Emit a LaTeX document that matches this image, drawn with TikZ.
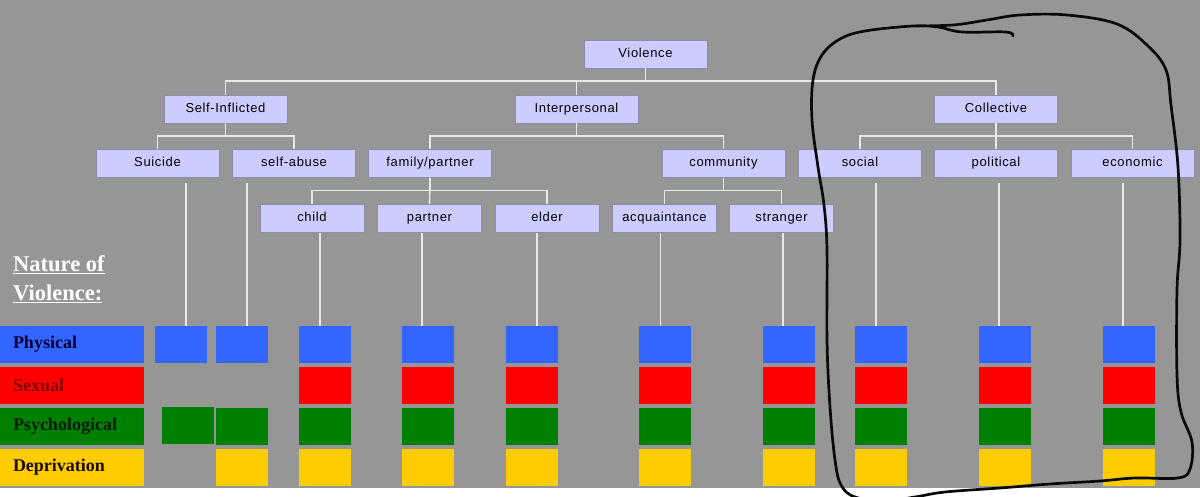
\documentclass[tikz,border=0pt]{standalone}
\usepackage{fontspec}
\setmainfont{Liberation Serif}
\newfontfamily\boxfont[LetterSpace=5]{Liberation Sans}
\usepackage{xcolor}
\usepackage{tikz}
\usetikzlibrary{positioning}

\definecolor{slide}{RGB}{150,150,150}
\definecolor{boxfill}{RGB}{204,204,255}
\definecolor{boxline}{RGB}{140,140,170}
\definecolor{linkgray}{RGB}{232,232,232}
\definecolor{physblue}{RGB}{51,102,255}
\definecolor{sexred}{RGB}{255,0,0}
\definecolor{psygreen}{RGB}{0,128,0}
\definecolor{depyellow}{RGB}{255,204,0}
\definecolor{phystext}{RGB}{0,0,51}
\definecolor{sextext}{RGB}{128,0,0}
\definecolor{psytext}{RGB}{0,26,0}
\definecolor{deptext}{RGB}{26,13,0}
\definecolor{penblack}{RGB}{10,10,10}

\begin{document}
\begin{tikzpicture}[
  x=1pt, y=-1pt,
  box/.style={
    draw=boxline,
    fill=boxfill,
    minimum width=123pt,
    minimum height=28pt,
    inner sep=0pt,
    text height=9.5pt,
    text depth=2.7pt,
    font=\boxfont\fontsize{13}{15}\selectfont
  },
  leafbox/.style={box, minimum width=104pt},
  link/.style={draw=linkgray, line width=1.6pt},
  cell/.style={
    minimum width=52pt,
    minimum height=36.5pt,
    inner sep=0pt,
    outer sep=0pt
  },
  phys/.style={cell, fill=physblue},
  sex/.style={cell, fill=sexred},
  psy/.style={cell, fill=psygreen},
  dep/.style={cell, fill=depyellow},
  rowlabel/.style={
    minimum width=144pt,
    minimum height=36.5pt,
    inner xsep=13pt,
    inner ysep=0pt,
    outer sep=0pt,
    text width=118pt,
    align=left,
    font=\bfseries\fontsize{18}{20}\selectfont
  },
  pen/.style={draw=penblack, line width=2.7pt, line cap=round, line join=round}
]
\useasboundingbox (0,0) rectangle (1200,497);
\fill[white] (0,0) rectangle (1200,497);
\fill[slide] (0,0) rectangle (1200,488);

% the tree
\node[box] (violence) at (645.5,54) {Violence};
\node[box] (selfinf) at (225.5,109) {Self-Inflicted};
\node[box] (interp) at (576.5,109) {Interpersonal};
\node[box] (collective) at (996,109) {Collective};

\node[box] (suicide) at (157.5,163.5) {Suicide};
\node[box] (selfabuse) at (294,163.5) {self-abuse};
\node[box] (family) at (430,163.5) {family/partner};
\node[box] (community) at (723.5,163.5) {community};
\node[box] (social) at (860,163.5) {social};
\node[box] (political) at (996,163.5) {political};
\node[box] (economic) at (1132.5,163.5) {economic};

\node[leafbox] (child) at (312,218) {child};
\node[leafbox] (partner) at (429.5,218) {partner};
\node[leafbox] (elder) at (547,218) {elder};
\node[leafbox] (acquaint) at (664.5,218) {acquaintance};
\node[leafbox] (stranger) at (781.5,218) {stranger};

\draw[link] (violence.south) -- ++(0,13) -| (selfinf.north);
\draw[link] (violence.south) -- ++(0,13) -| (interp.north);
\draw[link] (violence.south) -- ++(0,13) -| (collective.north);

\draw[link] (selfinf.south) -- ++(0,13) -| (suicide.north);
\draw[link] (selfinf.south) -- ++(0,13) -| (selfabuse.north);
\draw[link] (interp.south) -- ++(0,13) -| (family.north);
\draw[link] (interp.south) -- ++(0,13) -| (community.north);
\draw[link] (collective.south) -- ++(0,13) -| (social.north);
\draw[link] (collective.south) -- (political.north);
\draw[link] (collective.south) -- ++(0,13) -| (economic.north);

\draw[link] (family.south) -- ++(0,13) -| (child.north);
\draw[link] (family.south) -- (partner.north);
\draw[link] (family.south) -- ++(0,13) -| (elder.north);
\draw[link] (community.south) -- ++(0,13) -| (acquaint.north);
\draw[link] (community.south) -- ++(0,13) -| (stranger.north);

% nature of violence
\node[anchor=north west, inner sep=0pt, align=left, text=white,
  font=\bfseries\fontsize{22.5}{29}\selectfont] (nature) at (13,255)
  {\underline{Nature of}\\\underline{Violence:}};

\node[rowlabel, fill=physblue, text=phystext] (physical) at (72,344.25) {Physical};
\node[rowlabel, fill=sexred, text=sextext, below=4.5pt of physical] (sexual) {Sexual};
\node[rowlabel, fill=psygreen, text=psytext, below=4.5pt of sexual] (psychological) {Psychological};
\node[rowlabel, fill=depyellow, text=deptext, below=4.5pt of psychological] (deprivation) {Deprivation};

% colour cells
\node[phys] (suicide-p) at (180.5,344.25) {};
\node[psy] (suicide-y) at (187.5,425.5) {};

\node[phys] (selfabuse-p) at (241.5,344.25) {};
\node[psy] (selfabuse-y) at (241.5,426.5) {};
\node[dep, below=4.5pt of selfabuse-y] (selfabuse-d) {};

\node[phys] (child-p) at (325,344.25) {};
\node[sex, below=4.5pt of child-p] (child-s) {};
\node[psy, below=4.5pt of child-s] (child-y) {};
\node[dep, below=4.5pt of child-y] (child-d) {};

\node[phys] (partner-p) at (427.5,344.25) {};
\node[sex, below=4.5pt of partner-p] (partner-s) {};
\node[psy, below=4.5pt of partner-s] (partner-y) {};
\node[dep, below=4.5pt of partner-y] (partner-d) {};

\node[phys] (elder-p) at (531.5,344.25) {};
\node[sex, below=4.5pt of elder-p] (elder-s) {};
\node[psy, below=4.5pt of elder-s] (elder-y) {};
\node[dep, below=4.5pt of elder-y] (elder-d) {};

\node[phys] (acquaint-p) at (664.5,344.25) {};
\node[sex, below=4.5pt of acquaint-p] (acquaint-s) {};
\node[psy, below=4.5pt of acquaint-s] (acquaint-y) {};
\node[dep, below=4.5pt of acquaint-y] (acquaint-d) {};

\node[phys] (stranger-p) at (788.5,344.25) {};
\node[sex, below=4.5pt of stranger-p] (stranger-s) {};
\node[psy, below=4.5pt of stranger-s] (stranger-y) {};
\node[dep, below=4.5pt of stranger-y] (stranger-d) {};

\node[phys] (social-p) at (881,344.25) {};
\node[sex, below=4.5pt of social-p] (social-s) {};
\node[psy, below=4.5pt of social-s] (social-y) {};
\node[dep, below=4.5pt of social-y] (social-d) {};

\node[phys] (political-p) at (1005,344.25) {};
\node[sex, below=4.5pt of political-p] (political-s) {};
\node[psy, below=4.5pt of political-s] (political-y) {};
\node[dep, below=4.5pt of political-y] (political-d) {};

\node[phys] (economic-p) at (1128.5,344.25) {};
\node[sex, below=4.5pt of economic-p] (economic-s) {};
\node[psy, below=4.5pt of economic-s] (economic-y) {};
\node[dep, below=4.5pt of economic-y] (economic-d) {};

% drops from the leaves
\draw[link] ([xshift=5.5pt]suicide-p.north) -- ([xshift=5.5pt, yshift=-5pt]suicide-p.north |- suicide.south);
\draw[link] ([xshift=5.5pt]selfabuse-p.north) -- ([xshift=5.5pt, yshift=-5pt]selfabuse-p.north |- selfabuse.south);
\draw[link] ([xshift=-5pt]child-p.north) -- ([xshift=-5pt, yshift=-1pt]child-p.north |- child.south);
\draw[link] ([xshift=-5.5pt]partner-p.north) -- ([xshift=-5.5pt, yshift=-1pt]partner-p.north |- partner.south);
\draw[link] ([xshift=5.5pt]elder-p.north) -- ([xshift=5.5pt, yshift=-1pt]elder-p.north |- elder.south);
\draw[link] ([xshift=-4pt]acquaint-p.north) -- ([xshift=-4pt, yshift=-1pt]acquaint-p.north |- acquaint.south);
\draw[link] ([xshift=-5.5pt]stranger-p.north) -- ([xshift=-5.5pt, yshift=-1pt]stranger-p.north |- stranger.south);
\draw[link] ([xshift=-5pt]social-p.north) -- ([xshift=-5pt, yshift=-5pt]social-p.north |- social.south);
\draw[link] ([xshift=-6pt]political-p.north) -- ([xshift=-6pt, yshift=-5pt]political-p.north |- political.south);
\draw[link] ([xshift=-5.5pt]economic-p.north) -- ([xshift=-5.5pt, yshift=-5pt]economic-p.north |- economic.south);

% hand-drawn loop round the collective branch
\draw[pen] plot[smooth, tension=0.6] coordinates {
  (1013,36) (1006,32) (962,32) (938,27) (913,26) (865,31) (840,39)
  (822,55) (813,80) (812,120) (818,167) (824,205) (827,250) (827,340)
  (830,407) (835,460) (841,485) (855,497) (885,501) (915,497) (945,492)
  (1000,488) (1050,484) (1100,481) (1135,478) (1178,478) (1190,469)
  (1192,442) (1181,412) (1177,375) (1177,290) (1180,240) (1178,167)
  (1171,105) (1166,70) (1148,46) (1117,24) (1067,15) (1020,15) (987,20)
  (953,25) (913,26)};

\end{tikzpicture}
\end{document}
